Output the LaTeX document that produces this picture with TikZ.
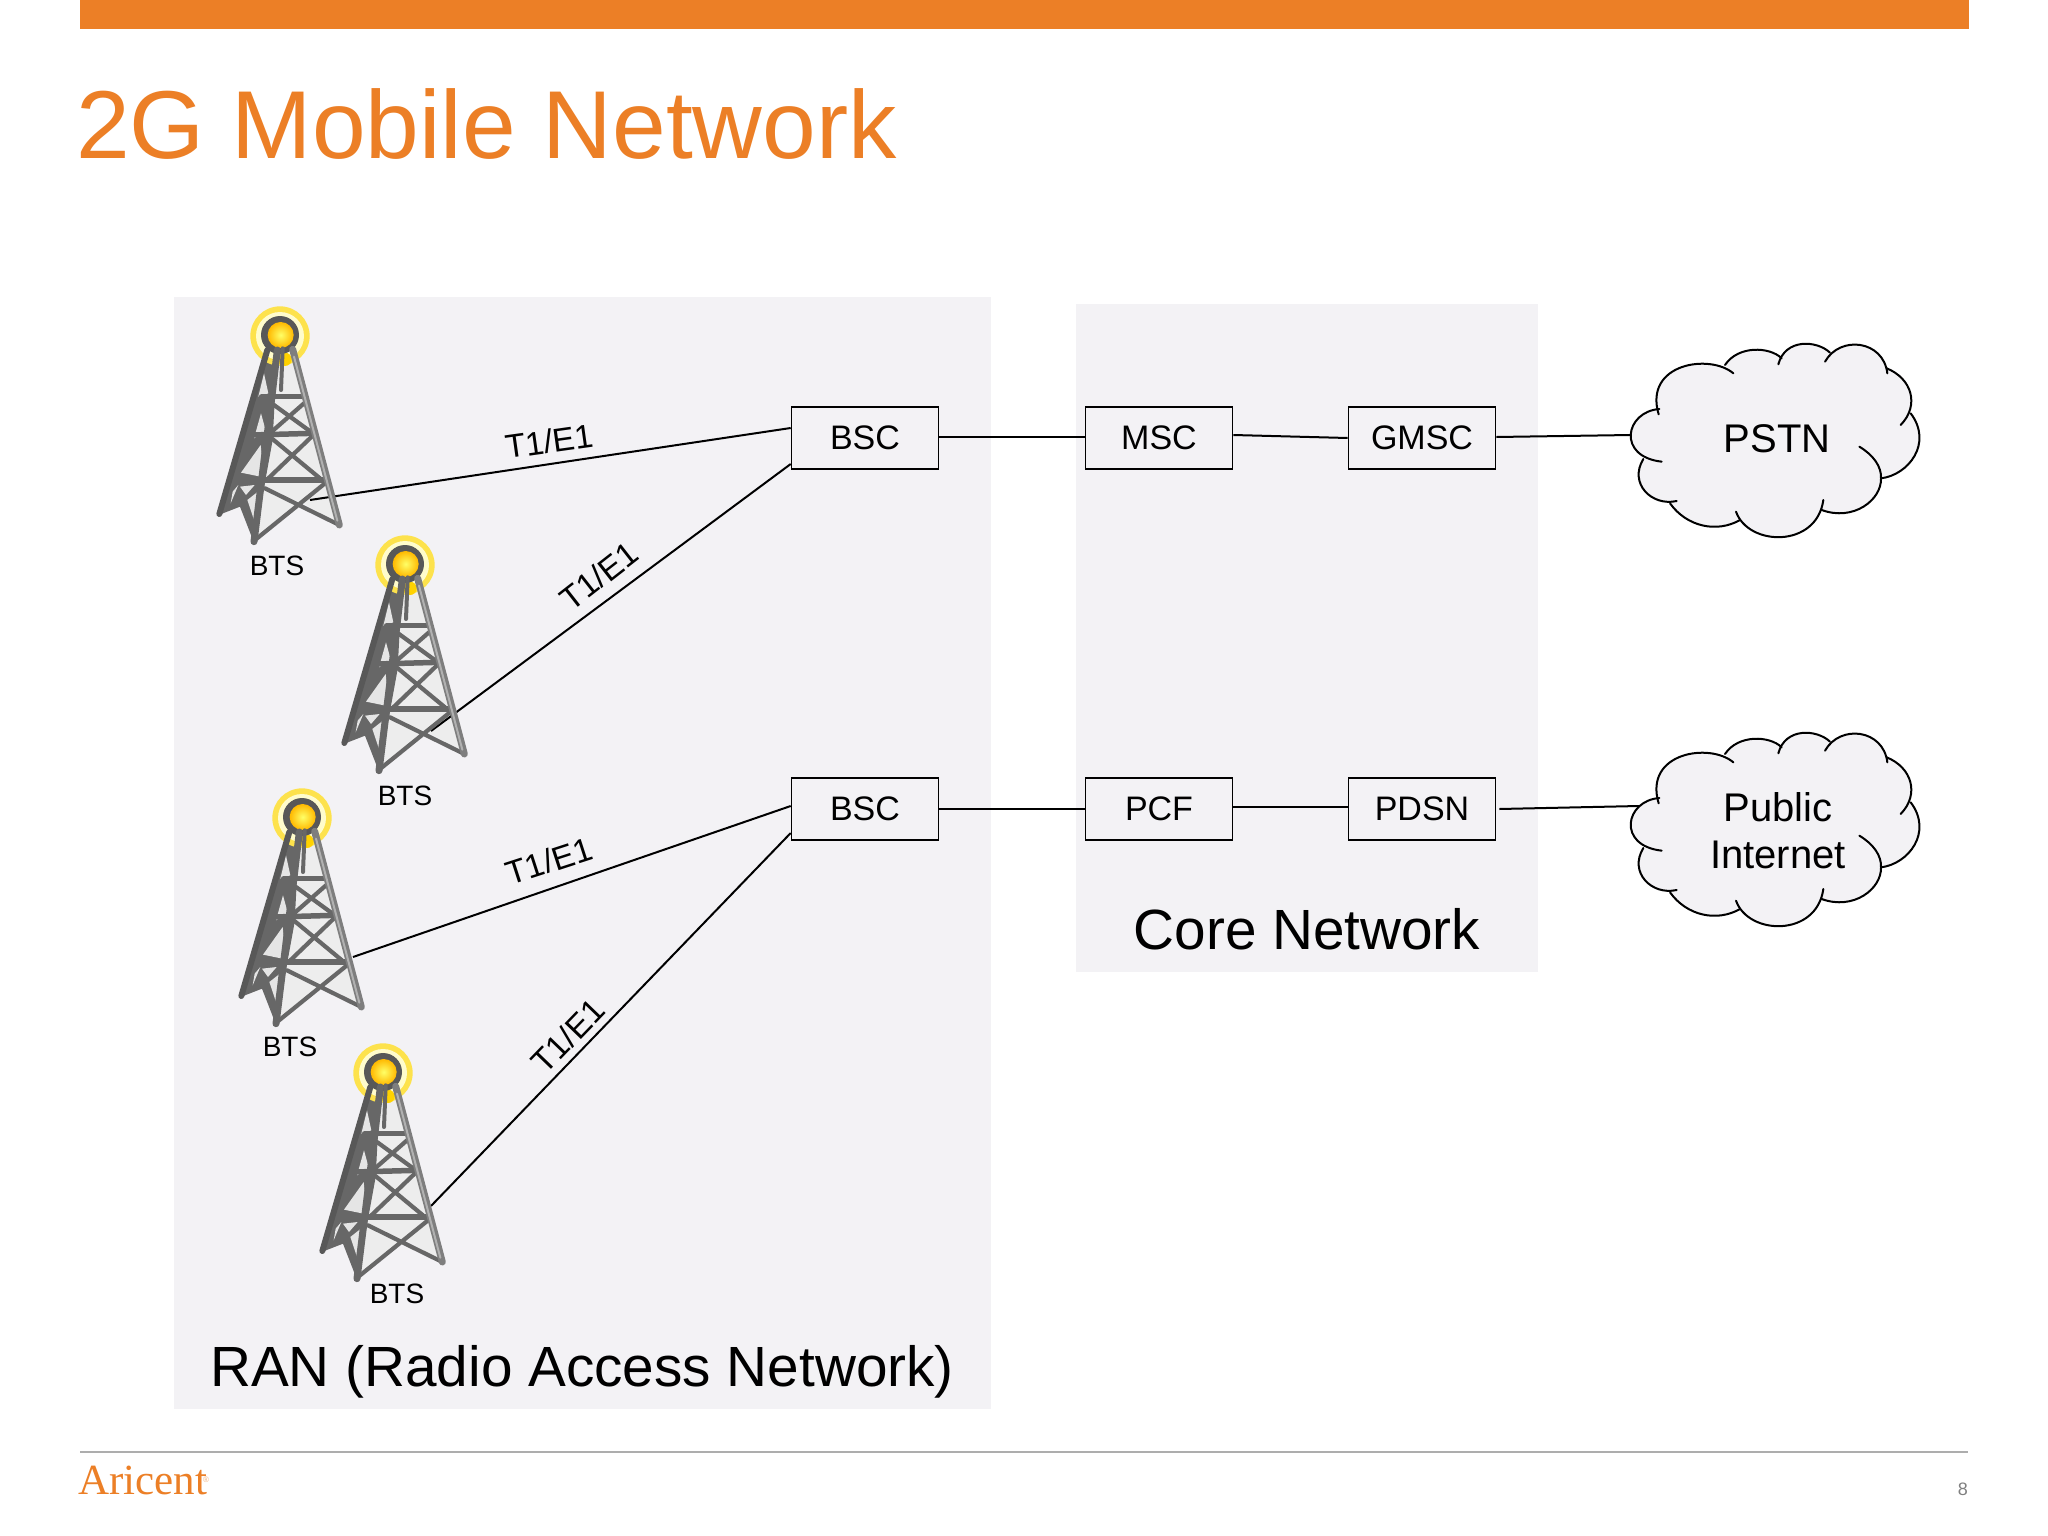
\documentclass[tikz,border=0pt]{standalone}
\usepackage{fontspec}
\setmainfont{Liberation Sans}
\newfontfamily\logofont{Liberation Serif}
\definecolor{orangeA}{HTML}{EC7F26}
\definecolor{panel}{HTML}{F3F2F5}
\definecolor{twd}{HTML}{585858}
\definecolor{twm}{HTML}{676767}
\definecolor{twl}{HTML}{7E7E7E}
\newcommand{\fsz}[1]{\fontsize{#1}{#1}\selectfont}
\tikzset{
  box/.style={draw=black,line width=1.6pt,fill=panel,minimum width=147pt,minimum height=62pt,inner sep=0pt,font=\fsz{34}},
  lnk/.style={draw=black,line width=2pt},
  t1/.style={inner sep=0pt,font=\fsz{33}},
  bts/.style={inner sep=0pt,font=\fsz{28}},
  big/.style={inner sep=0pt,anchor=base,font=\fsz{56.7}},
  cloudtxt/.style={inner sep=0pt,anchor=base,font=\fsz{40}},
  towerbg/.pic={
    \begin{scope}[scale=1/3]
      \fill[white!93!black] (240,180) -- (305,180) -- (445,700) -- (340,640) -- (195,750) -- (150,650) -- (90,670) -- cycle;
    \end{scope}
  },
  towerfg/.pic={
    \begin{scope}[scale=1/3,line cap=round,line join=round]
      % left face with gaps
      \fill[twm] (232,180) -- (86,675) -- (150,650) -- (192,758) -- (248,450) -- (262,180) -- cycle;
      \fill[white!90!black] (222,250) -- (205,320) -- (235,310) -- cycle;
      \fill[white!90!black] (213,370) -- (192,445) -- (228,425) -- cycle;
      \fill[white!90!black] (153,548) -- (222,562) -- (212,465) -- cycle;
      \fill[white!90!black] (150,590) -- (194,585) -- (168,615) -- cycle;
      \fill[white!90!black] (172,630) -- (210,600) -- (197,705) -- cycle;
      \fill[white!90!black] (128,605) -- (145,585) -- (122,640) -- cycle;
      % halo and lamp
      \fill[yellow!75!orange!70!white] (270,138) circle (89);
      \fill[yellow!20!white] (270,138) circle (72);
      \fill[orange!35!yellow] (285,208) circle (20);
      \fill[twd] (270,135) circle (57);
      \shade[inner color=yellow!60!white,outer color=orange!55!yellow] (272,135) circle (39);
      % struts
      \draw[twm,line width=5.5pt] (215,320) -- (345,320);
      \draw[twm,line width=5.5pt] (185,435) -- (370,430);
      \draw[twm,line width=5.5pt] (150,570) -- (400,570);
      \draw[twm,line width=4.2pt] (252,345) -- (362,425) (342,340) -- (245,425);
      \draw[twm,line width=4.2pt] (245,445) -- (390,565) (365,440) -- (235,565);
      \draw[twm,line width=4.2pt] (225,595) -- (448,705) (405,580) -- (195,750);
      % legs
      \draw[twd,line width=6pt] (232,180) -- (88,672);
      \draw[twm,line width=7pt] (262,180) -- (248,300) -- (215,570) -- (192,755);
      \draw[twl,line width=7pt] (308,178) -- (448,705);
      \draw[twm,line width=4pt] (278,175) -- (273,300);
      \draw[twl!60!white,line width=2pt] (312,200) -- (442,692);
    \end{scope}
  },
  cloudshape/.pic={
    \begin{scope}[scale=1/3,line width=2pt,line cap=round]
      \fill[panel] (178,237) .. controls (75,245) and (50,380) .. (185,395)
        -- (130,387) .. controls (85,460) and (155,530) .. (230,513)
        -- (210,520) .. controls (260,590) and (350,610) .. (420,570)
        -- (408,545) .. controls (445,650) and (650,655) .. (670,510)
        -- (665,540) .. controls (760,575) and (845,510) .. (843,445)
        .. controls (925,435) and (1000,340) .. (932,250)
        -- (902,285) .. controls (960,225) and (935,145) .. (860,115)
        -- (862,130) .. controls (850,30) and (720,15) .. (675,95)
        -- (690,68) .. controls (650,30) and (555,25) .. (535,103)
        -- (545,85) .. controls (510,50) and (415,45) .. (375,105)
        -- (400,130) .. controls (330,70) and (130,100) .. (176,253) -- cycle;
      \draw (178,237) .. controls (75,245) and (50,380) .. (185,395);
      \draw (130,387) .. controls (85,460) and (155,530) .. (230,513);
      \draw (210,520) .. controls (260,590) and (350,610) .. (420,570);
      \draw (408,545) .. controls (445,650) and (650,655) .. (670,510);
      \draw (665,540) .. controls (760,575) and (845,510) .. (843,445) .. controls (845,410) and (820,375) .. (778,350);
      \draw (843,445) .. controls (925,435) and (1000,340) .. (932,250);
      \draw (902,285) .. controls (960,225) and (935,145) .. (860,115);
      \draw (862,130) .. controls (850,30) and (720,15) .. (675,95);
      \draw (690,68) .. controls (650,30) and (555,25) .. (535,103);
      \draw (545,85) .. controls (510,50) and (415,45) .. (375,105);
      \draw (400,130) .. controls (330,70) and (130,100) .. (176,253);
    \end{scope}
  }
}
\begin{document}
\begin{tikzpicture}[x=1pt,y=-1pt]
\useasboundingbox (0,0) rectangle (2048,1536);
\fill[white] (0,0) rectangle (2048,1536);
% header
\fill[orangeA] (80,0) rectangle (1969,29);
\node[anchor=base west,inner sep=0pt,text=orangeA,font=\fsz{96.5}] (title) at (76,158) {2G Mobile Network};
% panels
\fill[panel] (174,297) rectangle (991,1409);
\fill[panel] (1076,304) rectangle (1538,972);
% boxes
\node[box] (bsc1) at (865,438) {BSC};
\node[box] (bsc2) at (865,809) {BSC};
\node[box] (msc) at (1159,438) {MSC};
\node[box] (gmsc) at (1422,438) {GMSC};
\node[box] (pcf) at (1159,809) {PCF};
\node[box] (pdsn) at (1422,809) {PDSN};
% tower backs
\pic at (190,290) {towerbg};
\pic at (315,519) {towerbg};
\pic at (212,772) {towerbg};
\pic at (293,1027) {towerbg};
% connector ends
\coordinate (t1) at (310,500);
\coordinate (t2) at (431,731);
\coordinate (t3) at (353,957);
\coordinate (t4) at (431,1206);
\coordinate (c1) at (1631,435);
\coordinate (c2) at (1639,806);
% connectors
\draw[lnk] (t1) -- ([yshift=10pt]bsc1.west);
\draw[lnk] (t2) -- ([yshift=-26pt]bsc1.west);
\draw[lnk] (t3) -- ([yshift=3pt]bsc2.west);
\draw[lnk] (t4) -- ([yshift=-24pt]bsc2.west);
\draw[lnk] ([yshift=1pt]bsc1.east) -- ([yshift=1pt]msc.west);
\draw[lnk] ([yshift=3pt]msc.east) -- (gmsc.west);
\draw[lnk] ([yshift=1pt]gmsc.east) -- (c1);
\draw[lnk] (bsc2.east) -- (pcf.west);
\draw[lnk] ([yshift=2pt]pcf.east) -- ([yshift=2pt]pdsn.west);
\draw[lnk] ([xshift=3pt]pdsn.east) -- (c2);
% towers
\pic at (190,290) {towerfg};
\pic at (315,519) {towerfg};
\pic at (212,772) {towerfg};
\pic at (293,1027) {towerfg};
% clouds
\pic at (1600,330) {cloudshape};
\pic at (1600,719) {cloudshape};
% labels
\node[cloudtxt] (pstn) at (1777,452) {PSTN};
\node[cloudtxt] (pub) at (1778,821) {Public};
\node[cloudtxt] (inet) at (1778,868) {Internet};
\node[t1,rotate=8] (l1) at (549,441) {T1/E1};
\node[t1,rotate=38] (l2) at (599,576) {T1/E1};
\node[t1,rotate=18] (l3) at (549,861) {T1/E1};
\node[t1,rotate=46] (l4) at (568,1036) {T1/E1};
\node[bts] (b1) at (277,566) {BTS};
\node[bts] (b2) at (405,796) {BTS};
\node[bts] (b3) at (290,1047) {BTS};
\node[bts] (b4) at (397,1294) {BTS};
\node[big] (ran) at (582,1386) {RAN (Radio Access Network)};
\node[big] (core) at (1307,949) {Core Network};
% footer
\draw[color=black!32,line width=1.6pt] (80,1452) -- (1968,1452);
\node[anchor=base west,inner sep=0pt,text=orangeA,font=\logofont\fsz{43}] (logo) at (78,1494) {Aricent};
\node[anchor=base west,inner sep=0pt,text=orangeA!60!white,font=\fsz{8}] (reg) at (203,1482) {®};
\node[anchor=base east,inner sep=0pt,text=black!50,font=\fsz{18}] (pg) at (1968,1495) {8};
\end{tikzpicture}
\end{document}
